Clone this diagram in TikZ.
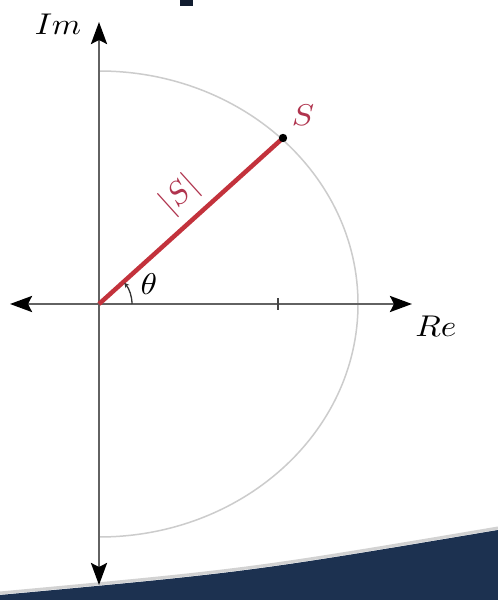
\documentclass[tikz,border=0pt]{standalone}
\usetikzlibrary{arrows.meta}
\definecolor{navy}{HTML}{1C3150}
\definecolor{vred}{HTML}{C3323C}
\definecolor{tred}{HTML}{B0344E}
\definecolor{axisgray}{HTML}{626262}
\definecolor{circgray}{HTML}{CCCCCC}
\newcommand{\biglbl}[1]{\scalebox{3.33}[3.0]{#1}}
\tikzset{
  axis/.style={draw=axisgray, line width=2.8pt, -{Stealth[length=22pt,width=16pt,inset=4pt,black]}},
  lbl/.style={inner sep=0pt},
}
\begin{document}
\begin{tikzpicture}[x=1pt,y=1pt]
\useasboundingbox (0,0) rectangle (498,600);
\fill[white] (0,0) rectangle (498,600);
% top fragment
\fill[navy!60!black] (180,594) rectangle (193,600);
% bottom band
\draw[gray!35, line width=3pt] (0,7) .. controls (249,30) .. (498,72);
\fill[navy] (0,0) -- (0,5) .. controls (249,28) .. (498,70) -- (498,0) -- cycle;
% coordinates
\coordinate (O) at (99,296);
\coordinate (S) at (283,462);
\coordinate (top) at (99,578);
\coordinate (bot) at (99,15);
\coordinate (lft) at (10,296);
\coordinate (rgt) at (412,296);
% half ellipse
\draw[circgray, line width=1.5pt] (99,529) arc[start angle=90, end angle=-90, x radius=259, y radius=233];
% axes
\draw[axis] (O) -- (top);
\draw[axis] (O) -- (bot);
\draw[axis] (O) -- (lft);
\draw[axis] (O) -- (rgt);
% tick
\draw[axisgray!70!black, line width=1.6pt] (278,290) -- (278,302);
% vector
\draw[vred, line width=4.5pt] (O) -- (S);
\fill[black] (S) circle (4.2);
% angle
\draw[black!80, line width=1.3pt, -{Stealth[length=5pt,width=5pt]}] (132,296) arc[start angle=0, end angle=40, radius=33];
% labels
\node[lbl] (im) at (58,576) {\biglbl{$Im$}};
\node[lbl] (re) at (436,274) {\biglbl{$Re$}};
\node[lbl, text=tred] (sl) at (303,485) {\biglbl{$S$}};
\node[lbl, text=tred, rotate=42] (abs) at (180,405) {\scalebox{3.2}{$|S|$}};
\node[lbl] (th) at (149,316) {\biglbl{$\theta$}};
\end{tikzpicture}
\end{document}
